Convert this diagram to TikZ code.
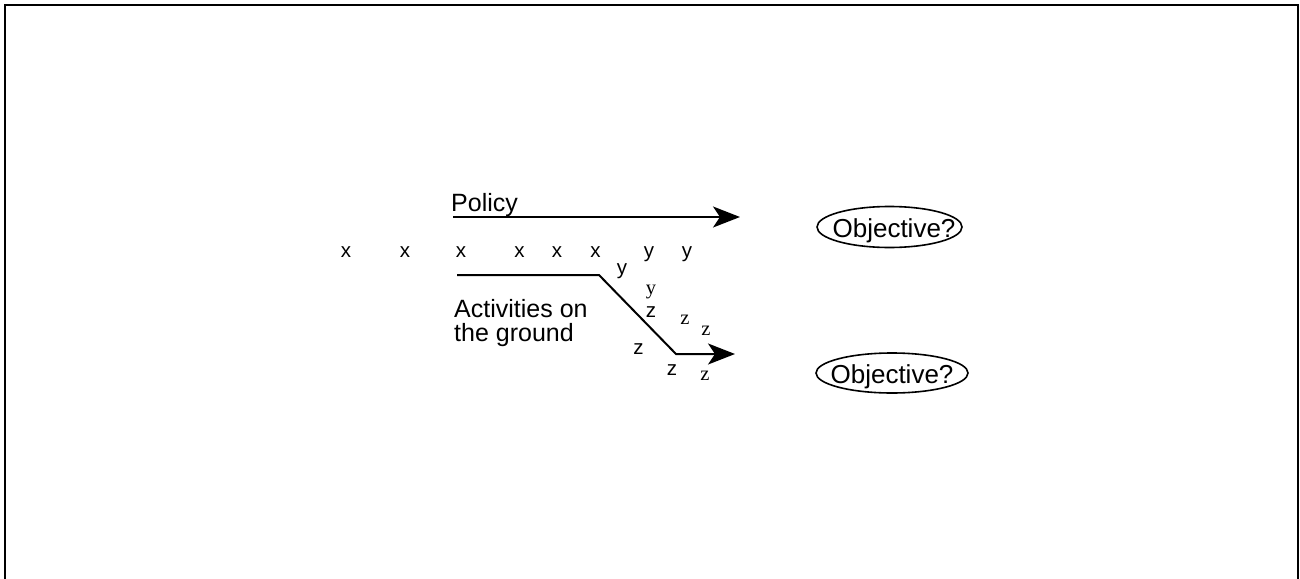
\documentclass[tikz,border=0pt]{standalone}
\usepackage{fontspec}
\setmainfont{Liberation Sans}
\newfontfamily\timesfont{Liberation Serif}
\usetikzlibrary{arrows.meta}
\begin{document}
\begin{tikzpicture}[x=1pt,y=-1pt,
  sansletter/.style={inner sep=0pt,anchor=base,font=\fontsize{20.5}{24}\selectfont},
  serifletter/.style={inner sep=0pt,anchor=base,font=\timesfont\fontsize{20.5}{24}\selectfont},
  lbltext/.style={inner sep=0pt,anchor=base west,font=\fontsize{25}{25}\selectfont},
  goal/.style={inner sep=0pt,anchor=base,font=\fontsize{26}{30}\selectfont},
  goalring/.style={line width=1.6pt},
  flow/.style={line width=2pt,-{Stealth[length=27pt,width=21pt,inset=7pt]}},
  frame/.style={line width=2.2pt}
]
\useasboundingbox (0,0) rectangle (1300,578);

% outer frame (open at the bottom edge of the page)
\draw[frame] (5,590) -- (5,5) -- (1298,5) -- (1298,590);

% policy track
\node[lbltext] (policy) at (451,211) {Policy};
\coordinate (pstart) at (453,217);
\coordinate (pend) at (740,217);
\draw[flow] (pstart) -- (pend);

% activities track, bending down
\node[lbltext] (act1) at (454,317) {Activities on};
\node[lbltext] (act2) at (454,341) {the ground};
\coordinate (astart) at (457,275);
\coordinate (abend1) at (599,275);
\coordinate (abend2) at (676,354);
\coordinate (aend) at (735,354);
\draw[flow] (astart) -- (abend1) -- (abend2) -- (aend);

% objectives
\node[goal] (goal1) at (894,237) {Objective?};
\draw[goalring] (889.5,227) ellipse [x radius=72.5pt, y radius=20.5pt];
\node[goal] (goal2) at (892,383) {Objective?};
\draw[goalring] (892,373) ellipse [x radius=76pt, y radius=20pt];

% scattered x marks
\node[sansletter] (x1) at (346,257.5) {x};
\node[sansletter] (x2) at (405,257.5) {x};
\node[sansletter] (x3) at (461,257.5) {x};
\node[sansletter] (x4) at (519.5,257.5) {x};
\node[sansletter] (x5) at (557,257.5) {x};
\node[sansletter] (x6) at (595.5,257.5) {x};

% y marks
\node[sansletter] (y1) at (649,257.5) {y};
\node[sansletter] (y2) at (687,257.5) {y};
\node[sansletter] (y3) at (622,274.5) {y};
\node[serifletter] (y4) at (651,294.5) {y};

% z marks
\node[sansletter] (z1) at (651,317.5) {z};
\node[serifletter] (z2) at (685,324) {z};
\node[serifletter] (z3) at (706,335) {z};
\node[sansletter] (z4) at (638.5,354) {z};
\node[sansletter] (z5) at (672,375) {z};
\node[serifletter] (z6) at (705,380.5) {z};
\end{tikzpicture}
\end{document}
